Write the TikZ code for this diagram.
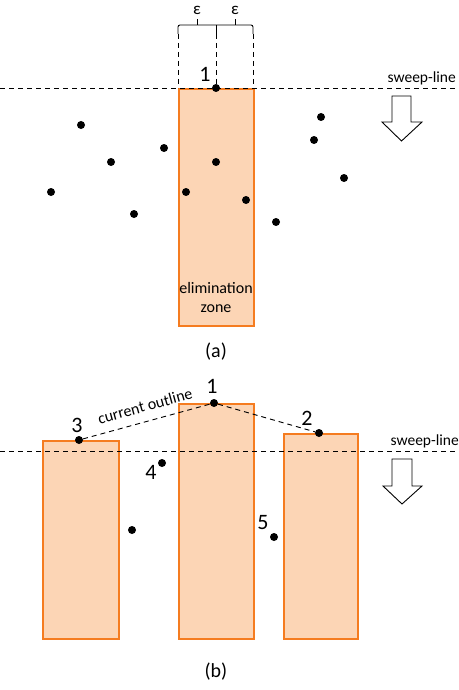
\documentclass[tikz,border=0pt]{standalone}
\usepackage{fontspec}
\setmainfont{Carlito}
\usetikzlibrary{calc}
\definecolor{zonefill}{RGB}{252,213,181}
\definecolor{zoneline}{RGB}{245,124,32}
\begin{document}
\begin{tikzpicture}[x=1pt,y=-1pt,
  dot/.style={circle,fill=black,inner sep=0pt,minimum size=8pt},
  zone/.style={draw=zoneline,fill=zonefill,line width=1.6pt},
  sweep/.style={line width=0.9pt,dash pattern=on 5pt off 4pt},
  lbl/.style={font=\fontsize{22}{24}\selectfont,inner sep=0pt},
  small/.style={font=\fontsize{15.5}{18}\selectfont,inner sep=0pt},
  blockarrow/.style={draw=black,line width=0.9pt,fill=white}]
\useasboundingbox (0,0) rectangle (458,690);

% ---------------- (a) ----------------
\node[zone,minimum width=75pt,minimum height=237pt,inner sep=0pt,anchor=north west] (za) at (178,88) {};
\node[small,align=center,font=\fontsize{16}{19}\selectfont] (ztxt) at (216,297) {elimination\\zone};
\draw[sweep] (0,88) coordinate (sa0) -- (458,88) coordinate (sa1);
\node[small,anchor=south east] (swa) at (456,85) {sweep-line};
% epsilon brackets
\draw[line width=0.9pt,rounded corners=2pt] (178,34) -- (178,25) -- (253,25) -- (253,34);
\draw[line width=0.9pt] (216,25) -- (216,34);
\draw[line width=0.9pt] (197,25) -- (197,19);
\draw[line width=0.9pt] (235,25) -- (235,19);
\node[small,font=\fontsize{17}{19}\selectfont] (e1) at (197,10) {ε};
\node[small,font=\fontsize{17}{19}\selectfont] (e2) at (235,10) {ε};
\draw[sweep] (178,34) -- (178,88);
\draw[sweep] (216,34) -- (216,88);
\draw[sweep] (253,34) -- (253,88);
\node[dot] (a1) at (216,88) {};
\node[lbl] (la1) at (205,74) {1};
\foreach \n/\x/\y in {p1/81/125,p2/111/162,p3/164/148,p4/216/162,p5/51/192,p6/134/214,p7/186/192,p8/246/200,p9/276/222,p10/321/117,p11/314/140,p12/344/178}
  \node[dot] (\n) at (\x,\y) {};
% block arrow
\draw[blockarrow] (392,96) -- (411,96) -- (411,122) -- (422,122) -- (401.5,141) -- (382,122) -- (392,122) -- cycle;
\node[lbl,font=\fontsize{20}{22}\selectfont] (capa) at (216,352) {(a)};

% ---------------- (b) ----------------
\node[zone,minimum width=76pt,minimum height=198pt,inner sep=0pt,anchor=north west] (r3) at (42,440) {};
\node[zone,minimum width=75pt,minimum height=235pt,inner sep=0pt,anchor=north west] (r1) at (178,403) {};
\node[zone,minimum width=74pt,minimum height=205pt,inner sep=0pt,anchor=north west] (r2) at (283,433) {};
\draw[sweep] (0,451) coordinate (sb0) -- (458,451) coordinate (sb1);
\node[small,anchor=south east] (swb) at (459,448) {sweep-line};
\node[dot] (b3) at (79,440) {};
\node[dot] (b1) at (214,403) {};
\node[dot] (b2) at (319,433) {};
\node[dot] (b4) at (162,463) {};
\node[dot] (b5) at (274,537) {};
\node[dot] (b6) at (132,530) {};
\draw[sweep] (b3) -- (b1) -- (b2);
\node[small,rotate=15.3,font=\fontsize{16}{19}\selectfont] (co) at (145,406) {current outline};
\node[lbl] (lb1) at (212,386) {1};
\node[lbl] (lb2) at (307,418) {2};
\node[lbl] (lb3) at (77,425) {3};
\node[lbl] (lb4) at (151,472) {4};
\node[lbl] (lb5) at (263,523) {5};
\draw[blockarrow] (392,459) -- (412,459) -- (412,486) -- (422,486) -- (402,504) -- (383,486) -- (392,486) -- cycle;
\node[lbl,font=\fontsize{20}{22}\selectfont] (capb) at (216,672) {(b)};
\end{tikzpicture}
\end{document}
